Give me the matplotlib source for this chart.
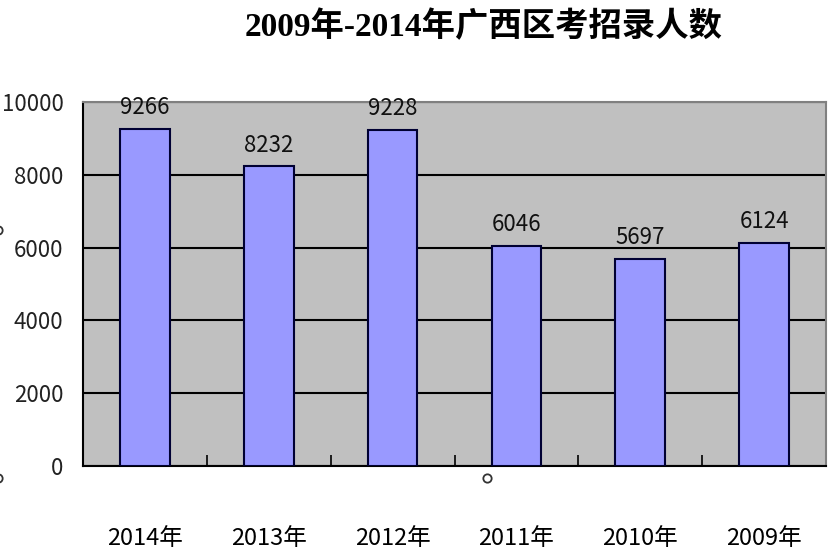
import numpy as np
import matplotlib.pyplot as plt
from matplotlib.ticker import FixedLocator
from matplotlib.lines import Line2D

# data
years = ['2014年', '2013年', '2012年', '2011年', '2010年', '2009年']
hires = [9266, 8232, 9228, 6046, 5697, 6124]
title = '2009年-2014年广西区考招录人数'

plt.rcParams['font.family'] = ['Noto Sans CJK SC', 'DejaVu Sans']

fig = plt.figure(figsize=(8.33, 5.53), dpi=100)
ax = fig.add_axes([83 / 833, 1 - 466 / 553, (826 - 83) / 833, (466 - 102) / 553])
ax.set_facecolor('#C0C0C0')

x = np.arange(len(years))
ax.bar(x, hires, width=0.4, color='#9999FF', edgecolor='#000033', linewidth=1.5, zorder=3)

for xi, v in zip(x, hires):
    ax.annotate(str(v), (xi, v), xytext=(0, 7), textcoords='offset points',
                ha='center', va='bottom', fontsize=16, color='#111111')

ax.set_xlim(-0.5, len(years) - 0.5)
ax.set_ylim(0, 10000)
ax.set_yticks(np.arange(0, 10001, 2000))
ax.yaxis.grid(True, color='black', linewidth=1.5, zorder=1)
ax.set_axisbelow(True)

ax.set_xticks(x)
ax.set_xticklabels(years, fontsize=17)
ax.xaxis.set_minor_locator(FixedLocator(np.arange(-0.5, len(years), 1.0)))
ax.tick_params(axis='x', which='major', length=0, pad=44, colors='black')
ax.tick_params(axis='x', which='minor', direction='in', length=8, width=1.2, color='black')
ax.tick_params(axis='y', direction='in', length=7, width=1.2, pad=14, labelsize=16, labelcolor='#222222')

for side in ['left', 'bottom']:
    ax.spines[side].set_color('black')
    ax.spines[side].set_linewidth(1.5)
for side in ['top', 'right']:
    ax.spines[side].set_color('#808080')
    ax.spines[side].set_linewidth(1.5)

fig.text(0.58, 0.951, title, ha='center', va='center', fontsize=24, fontweight='bold',
         family=['Liberation Serif', 'Noto Sans CJK SC'])

# stray circles visible in the original image
for cx, cy in [(487, 478), (-2, 230), (-2, 478)]:
    fig.add_artist(Line2D([cx / 833], [1 - cy / 553], marker='o', markersize=6,
                          markerfacecolor='none', markeredgecolor='#333333',
                          markeredgewidth=1.3, transform=fig.transFigure))

fig.savefig('out.png', dpi=100)
